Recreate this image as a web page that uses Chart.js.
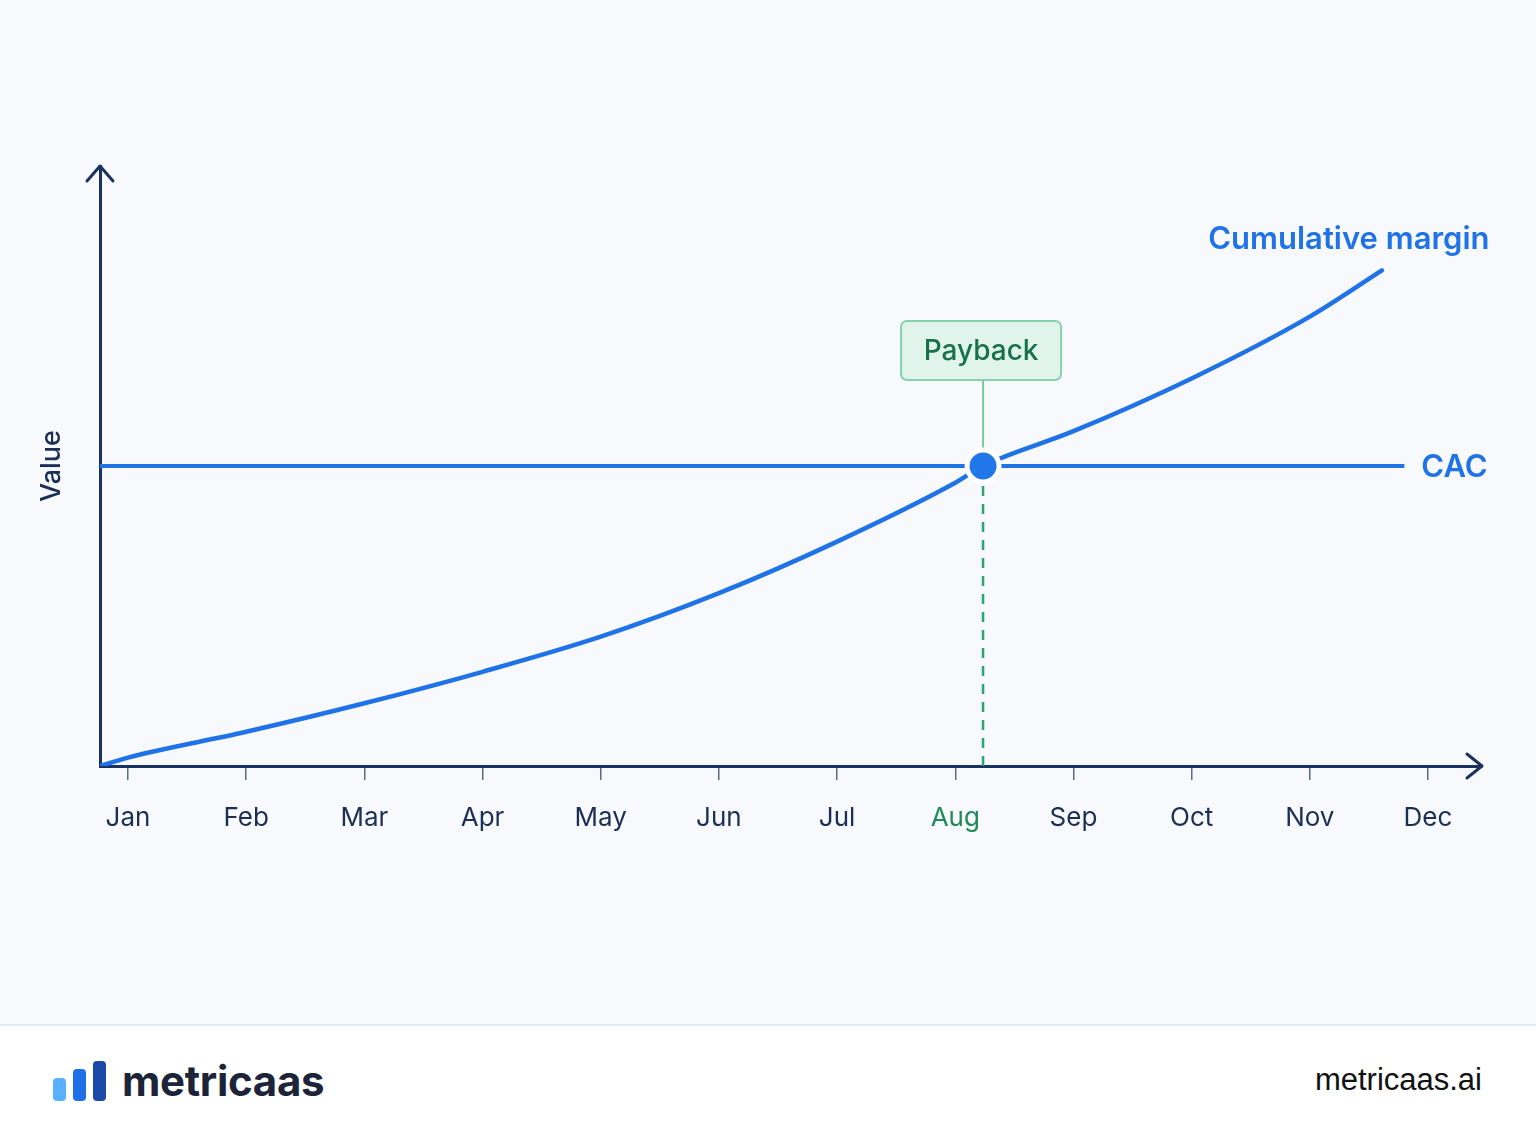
<!DOCTYPE html>
<html>
<head>
<meta charset="utf-8">
<title>CAC payback</title>
<script src="https://cdn.jsdelivr.net/npm/chart.js@4.4.1/dist/chart.umd.min.js"></script>
<style>
  body { margin: 0; width: 1536px; height: 1136px; background: #f7f9fc; font-family: Inter, "Noto Sans", sans-serif; overflow: hidden; position: relative; }
  #wrap { position: absolute; left: 0; top: 0; width: 1536px; height: 1024px; }
  footer { position: absolute; left: 0; top: 1024px; width: 1536px; height: 112px; background: #fff; border-top: 2px solid #e4e8ef; box-sizing: border-box; }
  .bar { position: absolute; width: 13px; border-radius: 4px; }
  .brand { position: absolute; left: 122px; top: 29px; font-size: 42px; font-weight: 700; color: #1b2438; letter-spacing: -0.3px; }
  .site { position: absolute; right: 54px; top: 36px; font-size: 31px; color: #111; font-family: "Liberation Sans", Arial, sans-serif; }
</style>
</head>
<body>
<div id="wrap"><canvas id="chart" width="1536" height="1024"></canvas></div>
<footer>
  <div class="bar" style="left:53px;top:52px;height:23px;background:#5aafff"></div>
  <div class="bar" style="left:73px;top:43px;height:32px;background:#1f6fe8"></div>
  <div class="bar" style="left:93px;top:35px;height:40px;background:#1c4aa8"></div>
  <div class="brand">metricaas</div>
  <div class="site">metricaas.ai</div>
</footer>
<script>
// ---------- DATA ----------
const months = ["Jan", "Feb", "Mar", "Apr", "May", "Jun", "Jul", "Aug", "Sep", "Oct", "Nov", "Dec"];

// month position (0 = Jan) and cumulative margin value
const marginX = [-0.237, 0, 1, 2, 3, 4, 5, 6, 7, 7.235, 8, 9, 10, 10.61];
const marginY = [0, 1.4, 5.7, 10.45, 15.7, 21.55, 28.8, 37.4, 47.2, 50, 55.8, 64.6, 74.9, 82.6];

// CAC flat line
const cacX = [-0.237, 10.8];
const cacValue = 50;

// payback point
const paybackX = 7.235;
const paybackMonth = 7; // Aug

const xMin = -0.237, xMax = 11.457;

// ---------- STYLE ----------
const navy = "#1a3260";
const blue = "#1f73e6";
const green = "#2aa574";

// arrows, background, labels, payback tag
const overlay = {
  id: "overlay",
  beforeDraw(chart) {
    const { ctx, width, height } = chart;
    ctx.save();
    ctx.fillStyle = "#f7f9fc";
    ctx.fillRect(0, 0, width, height);
    ctx.restore();
  },
  beforeDatasetsDraw(chart) {
    const { ctx, scales } = chart;
    const px = scales.x.getPixelForValue(paybackX);
    const py = scales.y.getPixelForValue(cacValue);
    ctx.save();
    // connector
    ctx.strokeStyle = "#75cba4";
    ctx.lineWidth = 2;
    ctx.beginPath();
    ctx.moveTo(px, py - 86);
    ctx.lineTo(px, py - 12);
    ctx.stroke();
    // tag
    const bx = px - 82, by = py - 145, bw = 160, bh = 59;
    ctx.beginPath();
    ctx.roundRect(bx, by, bw, bh, 6);
    ctx.fillStyle = "#e0f4eb";
    ctx.fill();
    ctx.strokeStyle = "#86d2ae";
    ctx.lineWidth = 2;
    ctx.stroke();
    ctx.fillStyle = "#17714b";
    ctx.font = "500 28px Inter";
    ctx.textAlign = "center";
    ctx.textBaseline = "middle";
    ctx.fillText("Payback", bx + bw / 2, by + bh / 2 + 1);
    ctx.restore();
  },
  afterDraw(chart) {
    const { ctx, chartArea: a, scales } = chart;
    ctx.save();
    ctx.strokeStyle = navy;
    ctx.lineWidth = 3;
    ctx.lineCap = "round";
    ctx.lineJoin = "round";
    // y arrow
    ctx.beginPath();
    ctx.moveTo(a.left - 13, a.top + 15);
    ctx.lineTo(a.left, a.top);
    ctx.lineTo(a.left + 13, a.top + 15);
    ctx.stroke();
    // x arrow
    ctx.beginPath();
    ctx.moveTo(a.right - 15, a.bottom - 12);
    ctx.lineTo(a.right, a.bottom);
    ctx.lineTo(a.right - 15, a.bottom + 12);
    ctx.stroke();

    // series labels
    ctx.fillStyle = blue;
    ctx.font = "600 31px Inter";
    ctx.textBaseline = "middle";
    const ex = scales.x.getPixelForValue(marginX[marginX.length - 1]);
    const ey = scales.y.getPixelForValue(marginY[marginY.length - 1]);
    ctx.textAlign = "center";
    ctx.fillText("Cumulative margin", ex - 33, ey - 31);
    ctx.textAlign = "left";
    ctx.fillText("CAC", scales.x.getPixelForValue(cacX[1]) + 17, scales.y.getPixelForValue(cacValue) + 2);
    ctx.restore();
  }
};

new Chart(document.getElementById("chart"), {
  type: "line",
  data: {
    datasets: [
      {
        label: "Payback",
        order: 0,
        data: [{ x: paybackX, y: cacValue }],
        pointRadius: 16,
        pointBackgroundColor: "#2176e8",
        pointBorderColor: "#ffffff",
        pointBorderWidth: 5,
        showLine: false
      },
      {
        label: "Cumulative margin",
        order: 1,
        data: marginX.map((x, i) => ({ x, y: marginY[i] })),
        borderColor: blue,
        borderWidth: 4.5,
        borderCapStyle: "round",
        cubicInterpolationMode: "monotone",
        pointRadius: 0
      },
      {
        label: "CAC",
        order: 2,
        data: cacX.map(x => ({ x, y: cacValue })),
        borderColor: blue,
        borderWidth: 4,
        pointRadius: 0
      },
      {
        label: "Payback drop",
        order: 3,
        data: [{ x: paybackX, y: 0 }, { x: paybackX, y: cacValue }],
        borderColor: green,
        borderWidth: 2.5,
        borderDash: [10, 8],
        pointRadius: 0
      }
    ]
  },
  options: {
    responsive: false,
    animation: false,
    layout: { padding: { top: 166, right: 54, left: 0, bottom: 0 } },
    plugins: { legend: { display: false }, tooltip: { enabled: false } },
    scales: {
      x: {
        type: "linear",
        min: xMin,
        max: xMax,
        afterBuildTicks: s => { s.ticks = months.map((m, i) => ({ value: i })); },
        afterFit: s => { s.height = 258; },
        border: { display: true, color: navy, width: 3 },
        grid: { display: true, drawOnChartArea: false, drawTicks: true, tickLength: 14, tickColor: "#5b6b86", lineWidth: 1.5 },
        ticks: {
          autoSkip: false,
          maxRotation: 0,
          padding: 23,
          callback: v => months[v],
          color: c => (c.index === paybackMonth ? "#1e8a5a" : "#1b2f55"),
          font: { family: "Inter", size: 26 }
        }
      },
      y: {
        min: 0,
        max: 100,
        afterFit: s => { s.width = 100; },
        border: { display: true, color: navy, width: 3 },
        grid: { display: false },
        ticks: { display: false },
        title: {
          display: true,
          text: "Value",
          color: "#1b2f55",
          font: { family: "Inter", size: 27, weight: "500" },
          padding: { top: 36, bottom: 0 }
        }
      }
    }
  },
  plugins: [overlay]
});
</script>
</body>
</html>
